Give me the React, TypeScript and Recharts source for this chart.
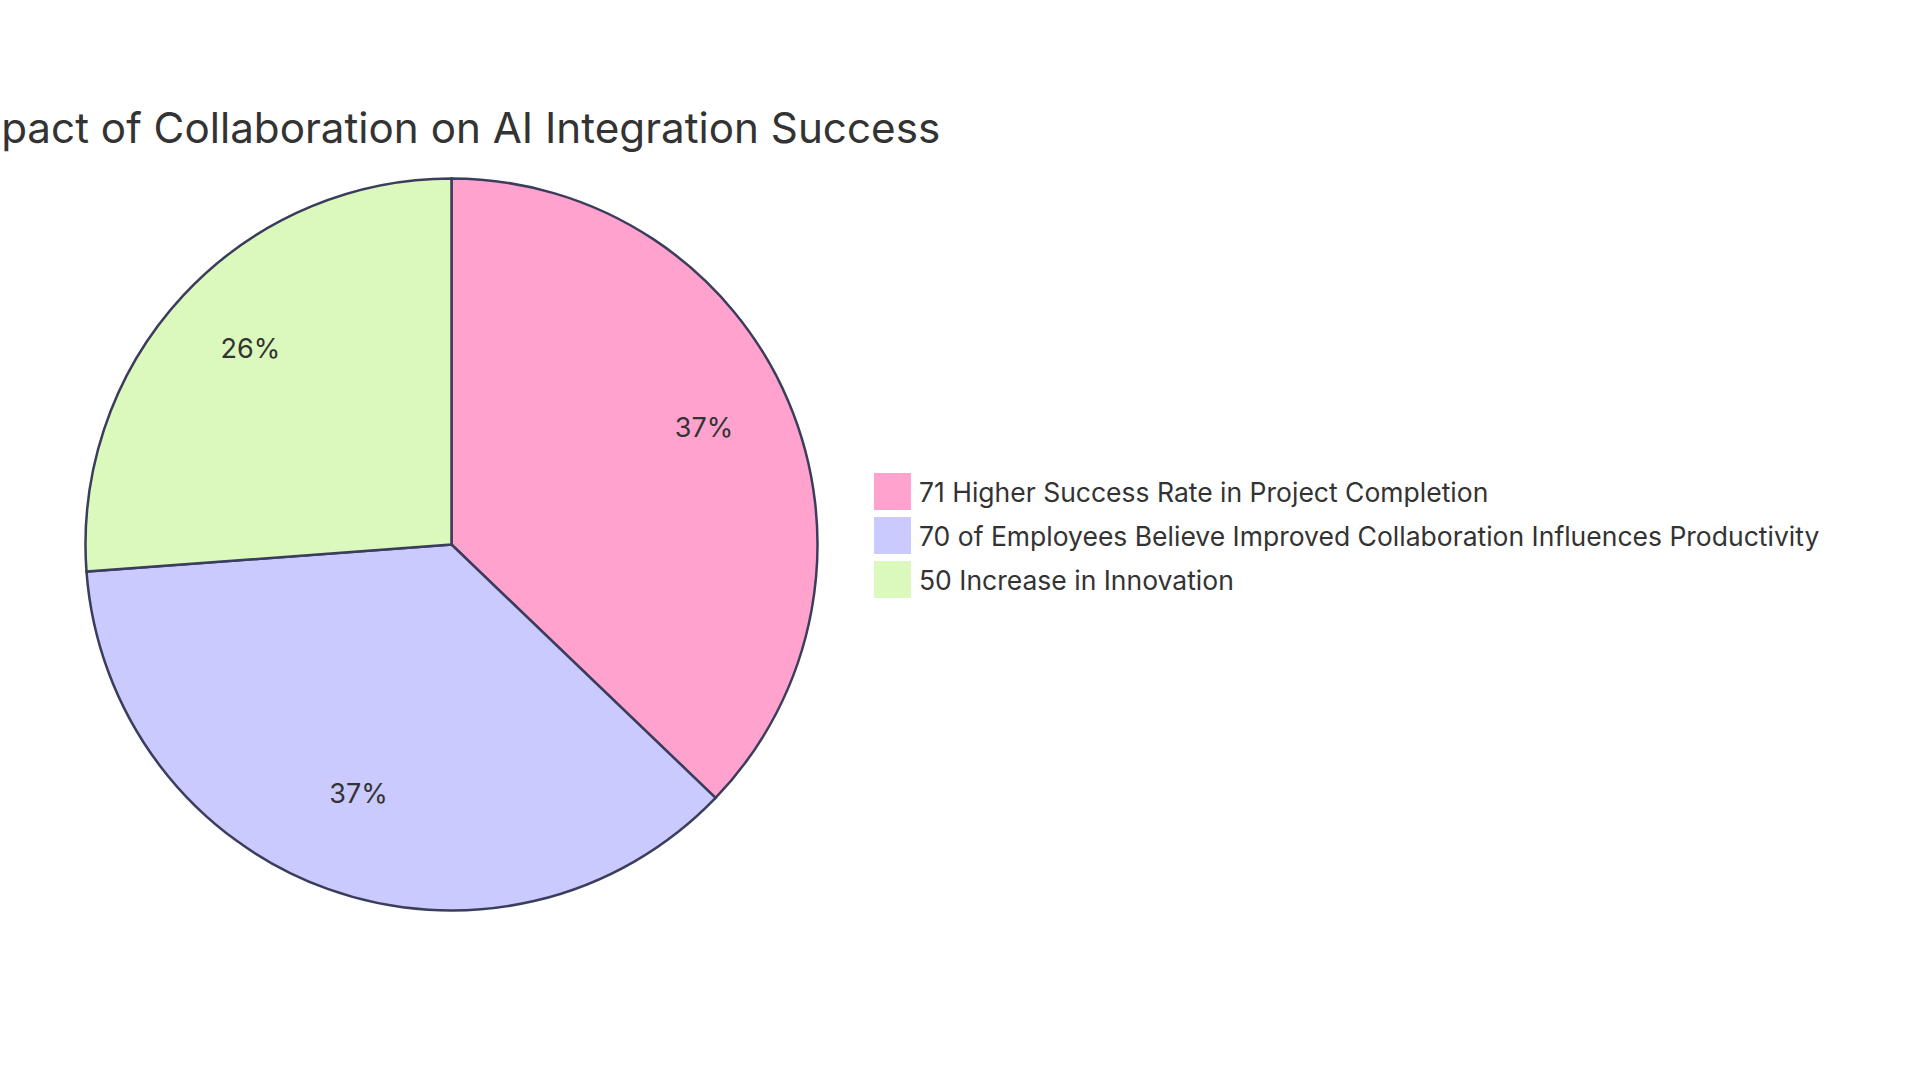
import React from "react";
import { PieChart, Pie, Cell, Legend } from "recharts";

const categories = [
  "71 Higher Success Rate in Project Completion",
  "70 of Employees Believe Improved Collaboration Influences Productivity",
  "50 Increase in Innovation",
];
const values = [71, 70, 50];
const colors = ["#FFA3CE", "#CACAFF", "#DCF9BD"];
const title = "Impact of Collaboration on AI Integration Success";

const data = categories.map((name, i) => ({ name, value: values[i], fill: colors[i] }));
const total = values.reduce((a, b) => a + b, 0);

const FONT = "Inter, 'Noto Sans', sans-serif";
const RAD = Math.PI / 180;

const renderLabel = (props: any) => {
  const { cx, cy, midAngle, outerRadius, value } = props;
  const r = outerRadius * 0.75;
  const x = cx + r * Math.cos(-midAngle * RAD);
  const y = cy + r * Math.sin(-midAngle * RAD);
  return (
    <text x={x} y={y} textAnchor="middle" fill="#333333" fontSize={27} fontFamily={FONT}>
      {`${Math.round((value / total) * 100)}%`}
    </text>
  );
};

const renderLegend = () => (
  <div style={{ fontFamily: FONT }}>
    {data.map((entry, i) => (
      <div key={i} style={{ display: "flex", alignItems: "center", height: 37, marginBottom: 7 }}>
        <div style={{ width: 37, height: 37, background: entry.fill, marginRight: 8, flex: "none" }} />
        <span style={{ fontSize: 26.5, color: "#333333", whiteSpace: "nowrap" }}>{entry.name}</span>
      </div>
    ))}
  </div>
);

export default function App() {
  return (
    <div style={{ position: "absolute", left: 0, top: 0, width: 1920, height: 1083, background: "#ffffff" }}>
      <PieChart width={1920} height={1083}>
        <text x={446.5} y={143} textAnchor="middle" fill="#333333" fontSize={42.2} fontFamily={FONT}>
          {title}
        </text>
        <Pie
          data={data}
          dataKey="value"
          nameKey="name"
          cx={446.5}
          cy={539.5}
          outerRadius={366}
          startAngle={90}
          endAngle={-270}
          stroke="#3B3D5C"
          strokeWidth={2.5}
          label={renderLabel}
          labelLine={false}
          isAnimationActive={false}
        >
          {data.map((d, i) => (
            <Cell key={i} fill={d.fill} />
          ))}
        </Pie>
        <Legend
          layout="vertical"
          content={renderLegend}
          wrapperStyle={{ position: "absolute", left: 874, top: 473, width: "auto" }}
        />
      </PieChart>
    </div>
  );
}
